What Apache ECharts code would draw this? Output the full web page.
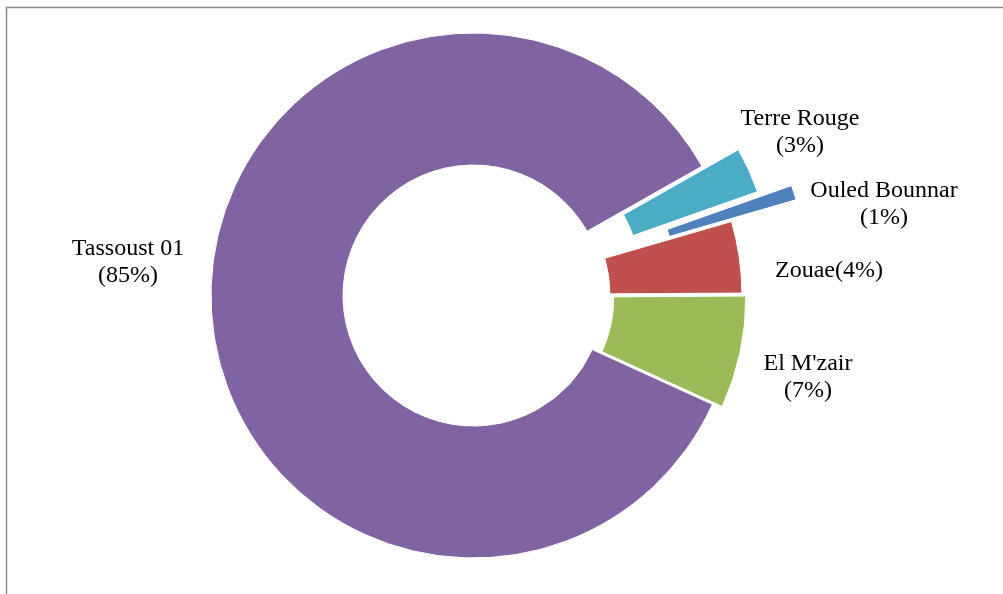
<!DOCTYPE html>
<html>
<head>
<meta charset="utf-8">
<script src="https://cdn.jsdelivr.net/npm/echarts@6/dist/echarts.min.js"></script>
<style>
  html, body { margin: 0; padding: 0; background: #fff; }
  #chart { width: 1003px; height: 594px; }
</style>
</head>
<body>
<div id="chart"></div>
<script>
// data (share of total, %)
const names = ['Tassoust 01', 'Terre Rouge', 'Ouled Bounnar', 'Zouae', "El M'zair"];
const values = [85.0, 2.8, 0.9, 4.4, 6.9];
const colors = ['#8064a2', '#4bacc6', '#4f81bd', '#c0504d', '#9bbb59'];

// how far each slice is pulled out of the ring, px
const explode = [0, 40, 74, 6, 10];
// where each label sits (centre of text block)
const labelAt = [[128, 262], [800, 132], [884, 204], [829, 271], [808, 377]];

const myChart = echarts.init(document.getElementById('chart'));

const pieBase = {
  type: 'pie',
  center: [473.5, 295.5],
  radius: [130.5, 262.5],
  startAngle: 335.5,
  clockwise: true,
  silent: true,
  avoidLabelOverlap: false,
  percentPrecision: 0,
  labelLine: { show: false }
};

// one series per slice so every slice can get its own pull-out distance
const slices = names.map((name, i) => Object.assign({}, pieBase, {
  selectedMode: 'multiple',
  selectedOffset: explode[i],
  label: { show: false },
  data: names.map((n, j) => ({
    name: n,
    value: values[j],
    selected: j === i && explode[i] > 0,
    itemStyle: {
      color: j === i ? colors[j] : 'transparent',
      borderColor: '#fff',
      borderWidth: j === i ? 1 : 0
    }
  }))
}));

// labels only, on an invisible copy of the ring
const labels = Object.assign({}, pieBase, {
  z: 5,
  itemStyle: { color: 'transparent' },
  label: {
    show: true,
    position: 'outside',
    fontFamily: 'Liberation Serif',
    fontSize: 24,
    lineHeight: 27,
    color: '#000',
    formatter: (p) => p.dataIndex === 3 ? p.name + '(' + p.percent + '%)' : p.name + '\n(' + p.percent + '%)'
  },
  labelLayout: (params) => ({
    x: labelAt[params.dataIndex][0],
    y: labelAt[params.dataIndex][1],
    align: 'center',
    verticalAlign: 'middle'
  }),
  data: names.map((n, j) => ({ name: n, value: values[j] }))
});

myChart.setOption({
  animation: false,
  backgroundColor: '#fff',
  graphic: [{
    type: 'rect',
    silent: true,
    shape: { x: 6.5, y: 7.5, width: 1100, height: 700 },
    style: { fill: 'none', stroke: '#8a8a8a', lineWidth: 1.5 }
  }],
  series: slices.concat([labels])
});
</script>
</body>
</html>
